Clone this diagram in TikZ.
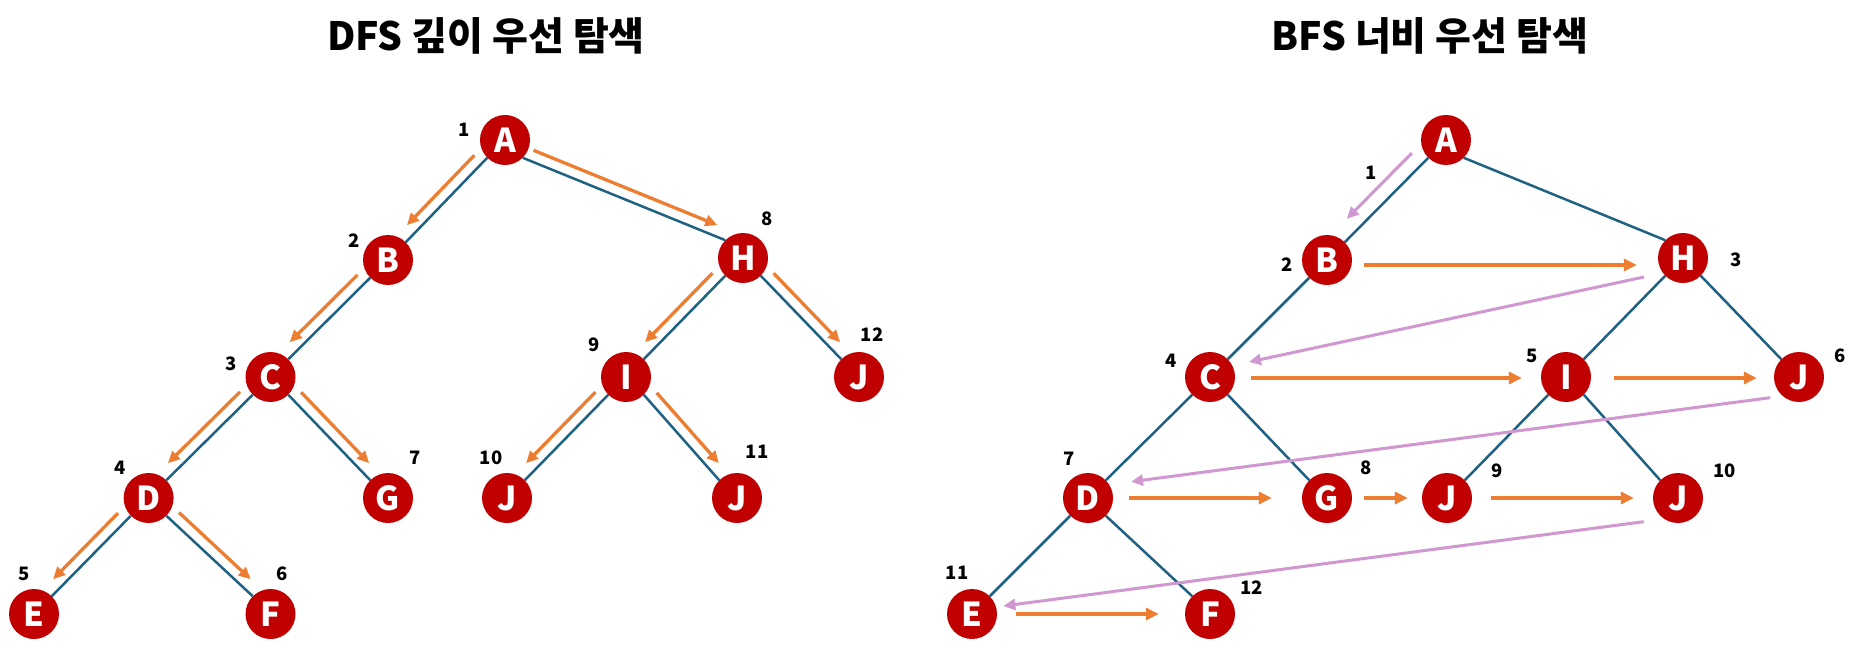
\documentclass[tikz,border=0pt]{standalone}
\usepackage{fontspec}
\setmainfont{Noto Sans CJK KR}
\usetikzlibrary{calc,arrows.meta}
\definecolor{nred}{HTML}{C00000}
\definecolor{eblue}{HTML}{1F6183}
\definecolor{orng}{HTML}{ED7D31}
\definecolor{pnk}{HTML}{D097D0}
% parallel arrow beside a left-child edge / right-child edge
\newcommand\dfsL[3][darr]{\draw[#1] ($(#2.south west)!7pt!(#3.north east)!11pt!-90:(#3.north east)$) -- ($(#3.north east)!13pt!(#2.south west)!11pt!90:(#2.south west)$);}
\newcommand\dfsR[3][darr]{\draw[#1] ($(#2.south east)!7pt!(#3.north west)!11pt!90:(#3.north west)$) -- ($(#3.north west)!13pt!(#2.south east)!11pt!-90:(#2.south east)$);}
\begin{document}
\begin{tikzpicture}[x=1pt,y=-1pt,
  vtx/.style={circle,fill=nred,minimum size=50pt,inner sep=0pt,text=white,font=\bfseries\fontsize{33}{33}\selectfont},
  num/.style={font=\bfseries\fontsize{18.5}{18.5}\selectfont,inner sep=0pt},
  edge/.style={draw=eblue,line width=2.5pt},
  darr/.style={draw=orng,line width=3.3pt,-{Triangle[length=12pt,width=11pt]}},
  barr/.style={draw=orng,line width=4pt,-{Triangle[length=13pt,width=12pt]}},
  parr/.style={draw=pnk,line width=3pt,-{Triangle[length=12pt,width=11pt]}},
  ttl/.style={font=\bfseries\fontsize{39}{39}\selectfont}
]
\useasboundingbox (0,0) rectangle (1863,660);

% ---------------- titles
\node[ttl] (t1) at (486,36) {DFS 깊이 우선 탐색};
\node[ttl] (t2) at (1430,36) {BFS 너비 우선 탐색};

% ---------------- DFS nodes
\node[vtx] (dA) at (505,140) {A};
\node[vtx] (dB) at (388,260) {B};
\node[vtx] (dH) at (743,258) {H};
\node[vtx] (dC) at (270.5,377) {C};
\node[vtx] (dI) at (626,377) {I};
\node[vtx] (dJa) at (859,377) {J};
\node[vtx] (dD) at (148.6,498) {D};
\node[vtx] (dG) at (388,498) {G};
\node[vtx] (dJb) at (507,498) {J};
\node[vtx] (dJc) at (737,498) {J};
\node[vtx] (dE) at (34,614) {E};
\node[vtx] (dF) at (270.5,614) {F};

% DFS edges
\draw[edge] (dA.south west) -- (dB.north east);
\draw[edge] (dA.south east) -- (dH.north west);
\draw[edge] (dB.south west) -- (dC.north east);
\draw[edge] (dH.south west) -- (dI.north east);
\draw[edge] (dH.south east) -- (dJa.north west);
\draw[edge] (dC.south west) -- (dD.north east);
\draw[edge] (dC.south east) -- (dG.north west);
\draw[edge] (dI.south west) -- (dJb.north east);
\draw[edge] (dI.south east) -- (dJc.north west);
\draw[edge] (dD.south west) -- (dE.north east);
\draw[edge] (dD.south east) -- (dF.north west);

% DFS arrows
\dfsL{dA}{dB}
\dfsR{dA}{dH}
\dfsL{dB}{dC}
\dfsL{dH}{dI}
\dfsR{dH}{dJa}
\dfsL{dC}{dD}
\dfsR{dC}{dG}
\dfsL{dI}{dJb}
\dfsR{dI}{dJc}
\dfsL{dD}{dE}
\dfsR{dD}{dF}

% DFS numbers
\node[num] (dn1) at (463.7,130) {1};
\node[num] (dn2) at (353.7,240.7) {2};
\node[num] (dn3) at (230.7,363.3) {3};
\node[num] (dn4) at (120,468) {4};
\node[num] (dn5) at (23.8,574) {5};
\node[num] (dn6) at (282.4,574) {6};
\node[num] (dn7) at (415,457.7) {7};
\node[num] (dn8) at (767,219) {8};
\node[num] (dn9) at (594.5,345) {9};
\node[num] (dn10) at (491,458) {10};
\node[num] (dn11) at (757,451.7) {11};
\node[num] (dn12) at (872,335) {12};

% ---------------- BFS nodes
\node[vtx] (bA) at (1446,140) {A};
\node[vtx] (bB) at (1327,260) {B};
\node[vtx] (bH) at (1683,258) {H};
\node[vtx] (bC) at (1210,377) {C};
\node[vtx] (bI) at (1566,377) {I};
\node[vtx] (bJa) at (1799,377) {J};
\node[vtx] (bD) at (1088,498) {D};
\node[vtx] (bG) at (1327,498) {G};
\node[vtx] (bJb) at (1447,498) {J};
\node[vtx] (bJc) at (1678,498) {J};
\node[vtx] (bE) at (972,614) {E};
\node[vtx] (bF) at (1210,614) {F};

% BFS edges
\draw[edge] (bA.south west) -- (bB.north east);
\draw[edge] (bA.south east) -- (bH.north west);
\draw[edge] (bB.south west) -- (bC.north east);
\draw[edge] (bH.south west) -- (bI.north east);
\draw[edge] (bH.south east) -- (bJa.north west);
\draw[edge] (bC.south west) -- (bD.north east);
\draw[edge] (bC.south east) -- (bG.north west);
\draw[edge] (bI.south west) -- (bJb.north east);
\draw[edge] (bI.south east) -- (bJc.north west);
\draw[edge] (bD.south west) -- (bE.north east);
\draw[edge] (bD.south east) -- (bF.north west);

% BFS orange arrows
\draw[barr,shorten <=12pt,shorten >=21pt] ([yshift=-5pt]bB.east) -- ([yshift=-7pt]bH.west);
\draw[barr,shorten <=16pt,shorten >=19pt] ([yshift=-1pt]bC.east) -- ([yshift=-1pt]bI.west);
\draw[barr,shorten <=23pt,shorten >=17pt] ([yshift=-1pt]bI.east) -- ([yshift=-1pt]bJa.west);
\draw[barr,shorten <=16pt,shorten >=30pt] (bD.east) -- (bG.west);
\draw[barr,shorten <=12pt,shorten >=14pt] (bG.east) -- (bJb.west);
\draw[barr,shorten <=19pt,shorten >=19pt] (bJb.east) -- (bJc.west);
\draw[barr,shorten <=19pt,shorten >=26pt] (bE.east) -- (bF.west);

% BFS pink arrows
\draw[parr] ($(bA.south west)!8pt!(bB.north east)!15pt!-90:(bB.north east)$) -- ($(bB.north east)!18pt!(bA.south west)!15pt!90:(bA.south west)$);
\draw[parr] ($(bH)+(-39,19)$) -- ($(bC)+(39,-15)$);
\draw[parr] ($(bJa)+(-28.7,20.7)$) -- ($(bD)+(43,-16.3)$);
\draw[parr] ($(bJc)+(-34.3,23.7)$) -- ($(bE)+(31.3,-8)$);

% BFS numbers
\node[num] (bn1) at (1370.8,172.7) {1};
\node[num] (bn2) at (1287,265) {2};
\node[num] (bn3) at (1735.8,259.3) {3};
\node[num] (bn4) at (1171,360.7) {4};
\node[num] (bn5) at (1532.5,355.7) {5};
\node[num] (bn6) at (1839.8,355.7) {6};
\node[num] (bn7) at (1068.7,459) {7};
\node[num] (bn8) at (1366.6,467.7) {8};
\node[num] (bn9) at (1496.8,470.7) {9};
\node[num] (bn10) at (1724.5,470.7) {10};
\node[num] (bn11) at (957,572.3) {11};
\node[num] (bn12) at (1251.3,587.7) {12};
\end{tikzpicture}
\end{document}
